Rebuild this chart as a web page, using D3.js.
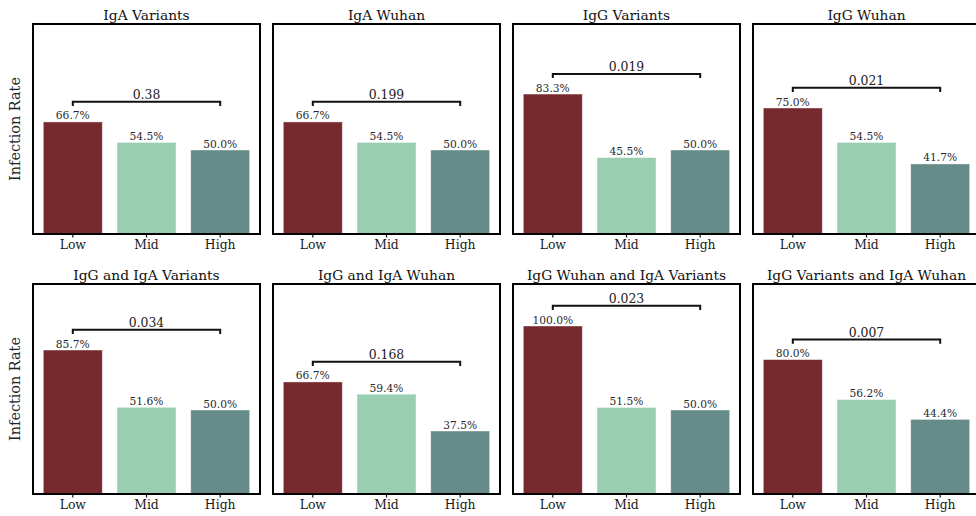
<!DOCTYPE html>
<html>
<head>
<meta charset="utf-8">
<script src="https://cdn.jsdelivr.net/npm/d3@7"></script>
<style>
  html, body { margin: 0; padding: 0; background: #fff; }
  svg { display: block; }
  text { font-family: "DejaVu Serif", serif; }
</style>
</head>
<body>
<svg id="chart" width="976" height="516"></svg>
<script>
// Infection rate by antibody level group, one panel per assay
const groups = ["Low", "Mid", "High"];
const panelTitles = [
  "IgA Variants", "IgA Wuhan", "IgG Variants", "IgG Wuhan",
  "IgG and IgA Variants", "IgG and IgA Wuhan", "IgG Wuhan and IgA Variants", "IgG Variants and IgA Wuhan"
];
const lowRates  = [0.667, 0.667, 0.833, 0.750, 0.857, 0.667, 1.000, 0.800];
const midRates  = [0.545, 0.545, 0.455, 0.545, 0.516, 0.594, 0.515, 0.562];
const highRates = [0.500, 0.500, 0.500, 0.417, 0.500, 0.375, 0.500, 0.444];
const pValues   = ["0.38", "0.199", "0.019", "0.021", "0.034", "0.168", "0.023", "0.007"];
const groupColors = ["#762a2e", "#99cfb0", "#668c8a"];
const yLabel = "Infection Rate";

const svg = d3.select("#chart");

const panelW = 227, panelH = 210;
const colLeft = [33, 273, 513, 753];
const rowTop = [24, 284];
const yMax = 1.25;

panelTitles.forEach((title, i) => {
  const col = i % 4, row = Math.floor(i / 4);
  const g = svg.append("g").attr("transform", `translate(${colLeft[col]},${rowTop[row]})`);
  const values = [lowRates[i], midRates[i], highRates[i]];

  const x = d3.scaleBand().domain(groups).range([0, panelW]).paddingInner(0.2).paddingOuter(0.14);
  const y = d3.scaleLinear().domain([0, yMax]).range([panelH, 0]);

  // bars
  g.selectAll("rect.bar").data(values).join("rect")
    .attr("class", "bar")
    .attr("x", (d, k) => x(groups[k]))
    .attr("width", x.bandwidth())
    .attr("y", d => y(d))
    .attr("height", d => y(0) - y(d))
    .attr("fill", (d, k) => groupColors[k])
    .attr("stroke", "#ffffff")
    .attr("stroke-opacity", 0.5)
    .attr("stroke-width", 0.8);

  // percentage labels
  g.selectAll("text.val").data(values).join("text")
    .attr("class", "val")
    .attr("x", (d, k) => x(groups[k]) + x.bandwidth() / 2)
    .attr("y", d => y(d) - 2.5)
    .attr("text-anchor", "middle")
    .attr("font-size", 10.7)
    .attr("fill", "#2a2a2a")
    .text(d => (d * 100).toFixed(1) + "%");

  // significance bracket between Low and High
  const by = y(d3.max(values) + 0.12);
  const x0 = x("Low") + x.bandwidth() / 2, x1 = x("High") + x.bandwidth() / 2;
  const drop = y(0) - y(0.025);
  g.append("path")
    .attr("d", `M${x0},${by + drop}V${by}H${x1}V${by + drop}`)
    .attr("fill", "none")
    .attr("stroke", "#111")
    .attr("stroke-width", 2);
  g.append("text")
    .attr("x", (x0 + x1) / 2)
    .attr("y", by - 2.5)
    .attr("text-anchor", "middle")
    .attr("font-size", 12.4)
    .attr("fill", "#222")
    .text(pValues[i]);

  // x axis ticks and labels
  const xAxis = d3.axisBottom(x).tickSize(3.5).tickPadding(3);
  const ax = g.append("g").attr("transform", `translate(0,${panelH})`).call(xAxis);
  ax.select(".domain").remove();
  ax.selectAll(".tick line").attr("stroke", "#111").attr("stroke-width", 1.2);
  ax.selectAll(".tick text")
    .attr("font-family", "DejaVu Serif, serif")
    .attr("font-size", 12.4)
    .attr("fill", "#1a1a1a");

  // frame
  g.append("rect")
    .attr("x", 0).attr("y", 0)
    .attr("width", panelW).attr("height", panelH)
    .attr("fill", "none")
    .attr("stroke", "#000")
    .attr("stroke-width", 2);

  // panel title
  g.append("text")
    .attr("x", panelW / 2)
    .attr("y", -4.5)
    .attr("text-anchor", "middle")
    .attr("font-size", 13.8)
    .attr("fill", "#111")
    .text(title);

  if (col === 0) {
    g.append("text")
      .attr("transform", `translate(-13,${panelH / 2}) rotate(-90)`)
      .attr("text-anchor", "middle")
      .attr("font-size", 14.4)
      .attr("fill", "#222")
      .text(yLabel);
  }
});
</script>
</body>
</html>
